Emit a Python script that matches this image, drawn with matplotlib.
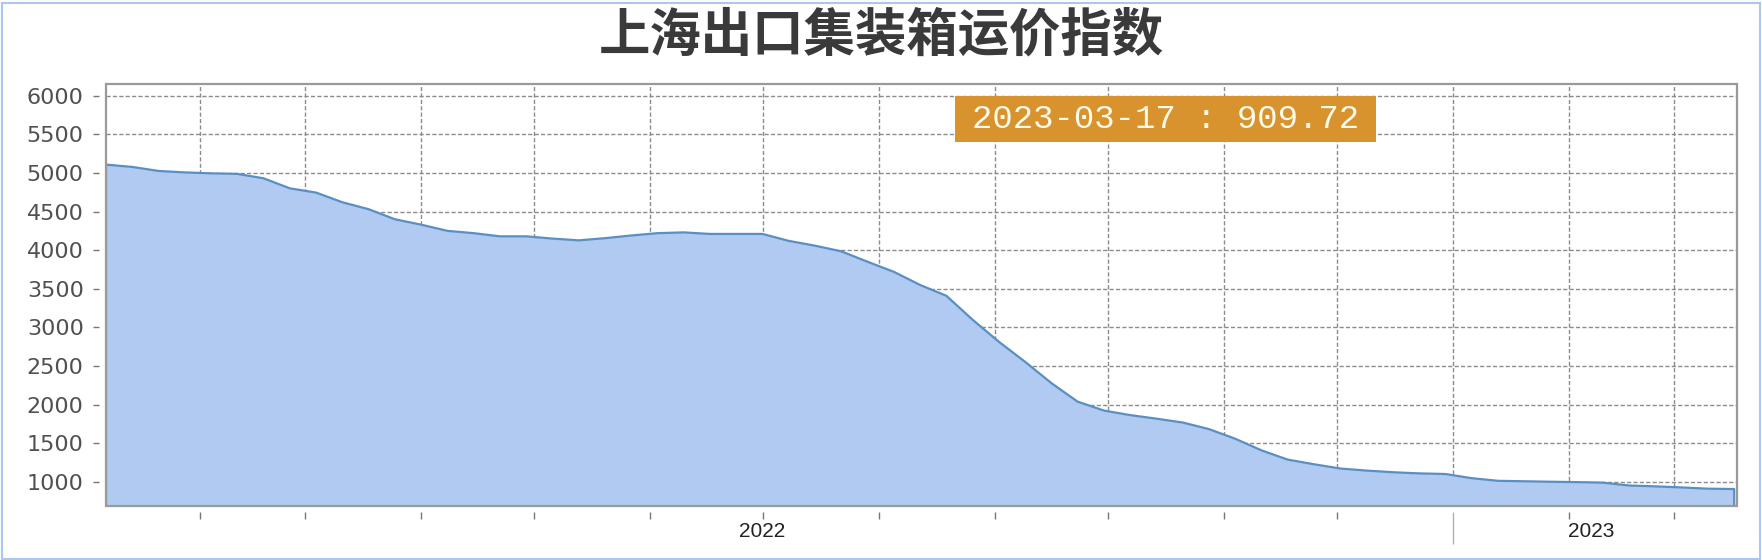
import pandas as pd
import matplotlib
matplotlib.use('Agg')
import matplotlib.pyplot as plt
from matplotlib.patches import Rectangle

plt.rcParams['font.family'] = ['DejaVu Sans']

# weekly index values, 2022-01-07 .. 2023-03-17
dates = pd.date_range('2022-01-07', '2023-03-17', freq='7D')
values = [5107, 5077, 5025, 5006, 4994, 4987, 4930, 4800, 4745, 4620,
          4530, 4400, 4330, 4250, 4220, 4179, 4179, 4150, 4127, 4155,
          4190, 4220, 4230, 4210, 4210, 4210, 4120, 4058, 3985, 3850,
          3720, 3550, 3410, 3100, 2815, 2555, 2280, 2040, 1925, 1866,
          1820, 1770, 1685, 1560, 1410, 1290, 1230, 1175, 1148, 1127,
          1112, 1104, 1050, 1016, 1010, 1004, 999, 992, 955, 944,
          930, 914, 909.72]
title = '上海出口集装箱运价指数'
last_label = '2023-03-17 : 909.72'
year_labels = ['2022', '2023']
year_label_pos = [pd.Timestamp('2022-07-01'), pd.Timestamp('2023-02-07')]
yticks = list(range(1000, 6001, 500))
ymin, ymax = 690, 6150

fill_c = '#b0caf1'
line_c = '#5a8fc3'
grid_c = '#8c8c8c'

W, H = 1762, 560
fig = plt.figure(figsize=(W / 100, H / 100), dpi=100)
ax = fig.add_axes([106 / W, 54 / H, (1737 - 106) / W, (506 - 84) / H])

ax.fill_between(dates, values, ymin, color=fill_c, lw=0, zorder=2)
ox = [dates[0]] + list(dates) + [dates[-1]]
oy = [ymin] + values + [ymin]
ax.plot(ox, oy, color=line_c, lw=1.6, zorder=3, solid_joinstyle='round')

ax.set_xlim(dates[0], dates[-1] + pd.Timedelta(hours=18))
ax.set_ylim(ymin, ymax)

months = pd.date_range('2022-02-01', '2023-03-01', freq='MS')
major = [m for m in months if m != pd.Timestamp('2023-01-01')]
ax.set_xticks(major)
ax.set_xticks([pd.Timestamp('2023-01-01')], minor=True)
ax.set_xticklabels([])
ax.set_xticklabels([], minor=True)
ax.set_yticks(yticks)
ax.set_yticklabels([str(v) for v in yticks])

for s in ax.spines.values():
    s.set_visible(False)
ax.spines['left'].set_position(('outward', 5.3))
ax.spines['bottom'].set_position(('outward', 4.3))

ax.tick_params(axis='y', length=4.3, width=1, color='#777777', pad=6.5,
               labelsize=16, labelcolor='#505050')
ax.tick_params(axis='x', which='major', length=5, width=1, color='#777777')
ax.tick_params(axis='x', which='minor', length=23, width=1, color='#b0b0b0')

ax.set_axisbelow(True)
ax.grid(True, which='both', axis='x', color=grid_c, lw=1, ls=(0, (3, 1.6)))
ax.grid(True, which='major', axis='y', color=grid_c, lw=1, ls=(0, (3, 1.6)))

ax.add_patch(Rectangle((0, 0), 1, 1, transform=ax.transAxes, fill=False,
                       edgecolor='#9a9a9a', lw=1.6, zorder=5, clip_on=False))

for lab, pos in zip(year_labels, year_label_pos):
    ax.annotate(lab, xy=(pos, 0), xycoords=('data', 'axes fraction'),
                xytext=(0, -18.7), textcoords='offset points',
                ha='center', va='center', fontsize=15,
                family='Liberation Sans', color='#222222')

fig.text(0.5, 1 - 35 / H, title, ha='center', va='center', fontsize=37,
         fontweight='bold', family=['Noto Sans CJK SC', 'DejaVu Sans'],
         color='#3a3a3a')

fig.patches.append(Rectangle((955 / W, 1 - 141.7 / H), 421 / W, 45.7 / H,
                             transform=fig.transFigure, facecolor='#d8932f',
                             edgecolor='none', zorder=6))
fig.text((955 + 421 / 2) / W, 1 - 119 / H, last_label, ha='center',
         va='center', fontsize=24.5, family='Liberation Mono',
         color='#fffbea', zorder=7)

fig.patches.append(Rectangle((1.5 / W, 1.5 / H), (1760 - 1.5) / W, (557 - 1.5) / H,
                             transform=fig.transFigure, fill=False,
                             edgecolor='#a9c7f0', lw=1.5, zorder=8))

fig.savefig('out.png', dpi=100)
